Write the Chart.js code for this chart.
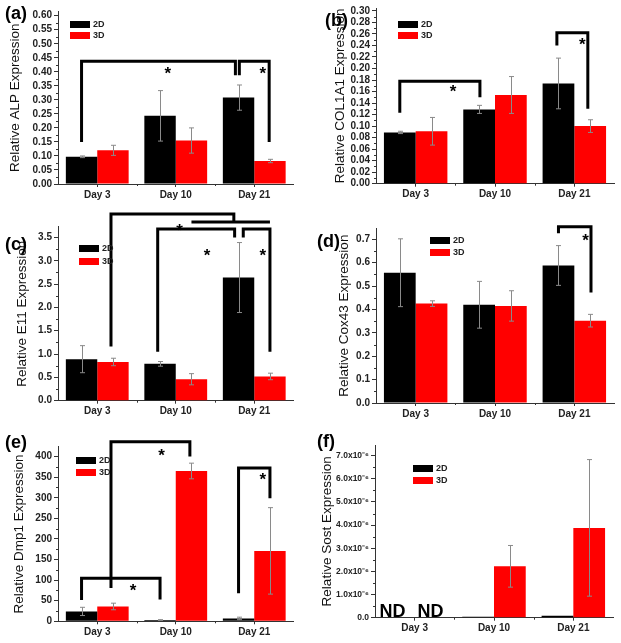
<!DOCTYPE html>
<html>
<head>
<meta charset="utf-8">
<script src="https://cdn.jsdelivr.net/npm/chart.js@4.4.1/dist/chart.umd.min.js"></script>
<style>
  body { margin: 0; background: #fff; width: 621px; height: 643px; position: relative; overflow: hidden; }
  canvas { position: absolute; }
</style>
</head>
<body>
<canvas id="pa"></canvas>
<canvas id="pb"></canvas>
<canvas id="pc"></canvas>
<canvas id="pd"></canvas>
<canvas id="pe"></canvas>
<canvas id="pf"></canvas>
<script>
'use strict';

// categories / series
const days = ['Day 3', 'Day 10', 'Day 21'];
const series = ['2D', '3D'];

// (a) ALP
const alp2D = [0.097, 0.243, 0.308];
const alp2DErr = [0.003, 0.09, 0.045];
const alp3D = [0.12, 0.155, 0.082];
const alp3DErr = [0.018, 0.045, 0.006];
const alpTicks = [0, 0.05, 0.1, 0.15, 0.2, 0.25, 0.3, 0.35, 0.4, 0.45, 0.5, 0.55, 0.6];

// (b) COL1A1
const col2D = [0.089, 0.129, 0.174];
const col2DErr = [0.002, 0.007, 0.044];
const col3D = [0.091, 0.154, 0.1];
const col3DErr = [0.024, 0.032, 0.011];
const colTicks = [0, 0.02, 0.04, 0.06, 0.08, 0.1, 0.12, 0.14, 0.16, 0.18, 0.2, 0.22, 0.24, 0.26, 0.28, 0.3];

// (c) E11
const e11_2D = [0.89, 0.79, 2.64];
const e11_2DErr = [0.29, 0.05, 0.75];
const e11_3D = [0.83, 0.46, 0.52];
const e11_3DErr = [0.08, 0.12, 0.07];
const e11Ticks = [0, 0.5, 1, 1.5, 2, 2.5, 3, 3.5];

// (d) Cox43
const cox2D = [0.557, 0.42, 0.588];
const cox2DErr = [0.145, 0.1, 0.085];
const cox3D = [0.425, 0.415, 0.352];
const cox3DErr = [0.012, 0.065, 0.027];
const coxTicks = [0, 0.1, 0.2, 0.3, 0.4, 0.5, 0.6, 0.7];

// (e) Dmp1
const dmp2D = [24, 3, 7];
const dmp2DErr = [10, 1, 3];
const dmp3D = [36, 365, 171];
const dmp3DErr = [8, 19, 105];
const dmpTicks = [0, 50, 100, 150, 200, 250, 300, 350, 400];

// (f) Sost (Day 3 = ND)
const sost2D = [null, 0.04e-6, 0.08e-6];
const sost2DErr = [0, 0, 0];
const sost3D = [null, 2.22e-6, 3.88e-6];
const sost3DErr = [0, 0.9e-6, 2.95e-6];
const sostTicks = [0, 1e-6, 2e-6, 3e-6, 4e-6, 5e-6, 6e-6, 7e-6];
const sostTickLabels = ['0.0', '1.0x10⁻⁶', '2.0x10⁻⁶', '3.0x10⁻⁶', '4.0x10⁻⁶', '5.0x10⁻⁶', '6.0x10⁻⁶', '7.0x10⁻⁶'];

// significance brackets: x in category units (2D bar = i-0.2, 3D bar = i+0.2), y in data units
const alpBrackets = [
    { x1: -0.2, y1: 0.15, x2: 1.76, y2: 0.388, top: 0.438 },
    { x1: 1.81, y1: 0.388, x2: 2.19, y2: 0.15, top: 0.438 }
];
const alpStars = [{ x: 0.9, y: 0.403 }, { x: 2.11, y: 0.403 }];

const colBrackets = [
    { x1: -0.2, y1: 0.123, x2: 0.81, y2: 0.15, top: 0.178 },
    { x1: 1.78, y1: 0.24, x2: 2.17, y2: 0.13, top: 0.262 }
];
const colStars = [{ x: 0.47, y: 0.164 }, { x: 2.1, y: 0.245 }];

const e11Brackets = [
    { x1: 0.175, y1: 1.16, x2: 1.74, y2: 3.83, top: 4.0 },
    { x1: 1.2, y1: 3.83, x2: 2.2, y2: 3.83, top: 3.83 },
    { x1: 0.77, y1: 1.05, x2: 1.75, y2: 3.5, top: 3.68 },
    { x1: 1.86, y1: 3.5, x2: 2.2, y2: 1.05, top: 3.68 }
];
const e11Stars = [{ x: 1.05, y: 3.69 }, { x: 1.4, y: 3.16 }, { x: 2.11, y: 3.16 }];

const coxBrackets = [
    { x1: 1.8, y1: 0.726, x2: 2.21, y2: 0.473, top: 0.754 }
];
const coxStars = [{ x: 2.14, y: 0.704 }];

const dmpBrackets = [
    { x1: 0.175, y1: 81, x2: 1.18, y2: 400, top: 436 },
    { x1: -0.2, y1: 52, x2: 0.8, y2: 53, top: 104.5 },
    { x1: 1.8, y1: 68, x2: 2.2, y2: 299, top: 372 }
];
const dmpStars = [{ x: 0.82, y: 409 }, { x: 0.455, y: 81 }, { x: 2.11, y: 349 }];

const FONT = "'Liberation Sans', Arial, sans-serif";

// box = canvas [left, top, w, h], area = plot [left, top, right, bottom] in page pixels
const panels = [
    { id: 'pa', tag: '(a)', box: [0, 0, 310, 205], area: [58, 11.5, 293.5, 184], max: 0.615,
      ticks: alpTicks, fmt: v => v.toFixed(2), title: 'Relative ALP Expression', titleX: 15.5,
      d2: alp2D, e2: alp2DErr, d3: alp3D, e3: alp3DErr,
      legend: [70, 21, 11], tagPos: [5, 5], brackets: alpBrackets, stars: alpStars },
    { id: 'pb', tag: '(b)', box: [310, 0, 311, 205], area: [376, 7.1, 614, 183.7], max: 0.305,
      ticks: colTicks, fmt: v => v.toFixed(2), title: 'Relative COL1A1 Expression', titleX: 340,
      d2: col2D, e2: col2DErr, d3: col3D, e3: col3DErr,
      legend: [88, 21, 11], tagPos: [15, 12], brackets: colBrackets, stars: colStars },
    { id: 'pc', tag: '(c)', box: [0, 205, 310, 220], area: [58, 226.7, 293.5, 400.7], max: 3.73,
      ticks: e11Ticks, fmt: v => v.toFixed(1), title: 'Relative E11 Expression', titleX: 22,
      d2: e11_2D, e2: e11_2DErr, d3: e11_3D, e3: e11_3DErr,
      legend: [79, 40, 13], tagPos: [5, 31], brackets: e11Brackets, stars: e11Stars },
    { id: 'pd', tag: '(d)', box: [310, 205, 311, 220], area: [376, 228.3, 614, 403], max: 0.747,
      ticks: coxTicks, fmt: v => v.toFixed(1), title: 'Relative Cox43 Expression', titleX: 344,
      d2: cox2D, e2: cox2DErr, d3: cox3D, e3: cox3DErr,
      legend: [120, 32, 12], tagPos: [7, 28], brackets: coxBrackets, stars: coxStars },
    { id: 'pe', tag: '(e)', box: [0, 415, 310, 228], area: [58, 446.7, 293.5, 621.3], max: 424,
      ticks: dmpTicks, fmt: v => String(v), title: 'Relative Dmp1 Expression', titleX: 19,
      d2: dmp2D, e2: dmp2DErr, d3: dmp3D, e3: dmp3DErr,
      legend: [76, 42, 12], tagPos: [5, 19], brackets: dmpBrackets, stars: dmpStars },
    { id: 'pf', tag: '(f)', box: [310, 415, 311, 228], area: [375, 445, 613, 617.7], max: 7.46e-6,
      ticks: sostTicks, tickLabels: sostTickLabels, tickSize: 8.5, title: 'Relative Sost Expression', titleX: 327,
      d2: sost2D, e2: sost2DErr, d3: sost3D, e3: sost3DErr,
      legend: [103, 50, 12], tagPos: [7, 18], brackets: [], stars: [], nd: 'ND' }
];

// 에러바, 괄호, 범례 등 그리기
function decoFor(p) {
    return {
        id: 'deco',
        afterDatasetsDraw(chart) {
            const ctx = chart.ctx, ys = chart.scales.y;
            ctx.save();
            ctx.strokeStyle = '#8a8a8a';
            ctx.lineWidth = 1;
            chart.data.datasets.forEach((ds, di) => {
                chart.getDatasetMeta(di).data.forEach((bar, i) => {
                    const v = ds.data[i], e = ds.errors[i];
                    if (v == null || !e) return;
                    const x = Math.round(bar.x) + 0.5;
                    const yt = ys.getPixelForValue(v + e);
                    const yb = ys.getPixelForValue(Math.max(0, v - e));
                    ctx.beginPath();
                    ctx.moveTo(x, yt); ctx.lineTo(x, yb);
                    ctx.moveTo(x - 2.5, yt); ctx.lineTo(x + 2.5, yt);
                    ctx.moveTo(x - 2.5, yb); ctx.lineTo(x + 2.5, yb);
                    ctx.stroke();
                });
            });
            ctx.restore();
        },
        afterDraw(chart) {
            const ctx = chart.ctx, xs = chart.scales.x, ys = chart.scales.y;
            const step = xs.getPixelForValue(1) - xs.getPixelForValue(0);
            const cx = pos => xs.getPixelForValue(0) + pos * step;
            const area = chart.chartArea;
            ctx.save();

            // minor ticks
            ctx.strokeStyle = '#333';
            ctx.lineWidth = 1;
            ctx.beginPath();
            for (let i = 0; i < p.ticks.length - 1; i++) {
                const y = Math.round(ys.getPixelForValue((p.ticks[i] + p.ticks[i + 1]) / 2)) + 0.5;
                ctx.moveTo(area.left - 2, y); ctx.lineTo(area.left, y);
            }
            for (let i = 0; i < days.length - 1; i++) {
                const x = Math.round(cx(i + 0.5)) + 0.5;
                ctx.moveTo(x, area.bottom); ctx.lineTo(x, area.bottom + 2);
            }
            ctx.stroke();

            // brackets
            ctx.strokeStyle = '#000';
            ctx.lineWidth = 3;
            ctx.lineJoin = 'miter';
            p.brackets.forEach(b => {
                ctx.beginPath();
                ctx.moveTo(cx(b.x1), ys.getPixelForValue(b.y1));
                ctx.lineTo(cx(b.x1), ys.getPixelForValue(b.top));
                ctx.lineTo(cx(b.x2), ys.getPixelForValue(b.top));
                ctx.lineTo(cx(b.x2), ys.getPixelForValue(b.y2));
                ctx.stroke();
            });

            // stars
            ctx.fillStyle = '#000';
            ctx.font = 'bold 17px ' + FONT;
            ctx.textAlign = 'center';
            ctx.textBaseline = 'middle';
            p.stars.forEach(s => {
                ctx.fillText('*', cx(s.x), ys.getPixelForValue(s.y) + 3);
            });

            // ND
            if (p.nd) {
                ctx.font = 'bold 18px ' + FONT;
                ctx.textBaseline = 'alphabetic';
                ctx.fillText(p.nd, cx(-0.28), area.bottom - 1);
                ctx.fillText(p.nd, cx(0.2), area.bottom - 1);
            }

            // legend
            const [lx, ly, gap] = p.legend;
            ctx.font = 'bold 9px ' + FONT;
            ctx.textAlign = 'left';
            ctx.textBaseline = 'middle';
            chart.data.datasets.forEach((ds, k) => {
                ctx.fillStyle = ds.backgroundColor;
                ctx.fillRect(lx, ly + k * gap, 20, 7);
                ctx.fillStyle = '#222';
                ctx.fillText(ds.label, lx + 23, ly + k * gap + 4);
            });

            // panel tag
            ctx.font = 'bold 18px ' + FONT;
            ctx.fillStyle = '#000';
            ctx.textBaseline = 'top';
            ctx.fillText(p.tag, p.tagPos[0], p.tagPos[1]);
            ctx.restore();
        }
    };
}

function makePanel(p) {
    const cv = document.getElementById(p.id);
    const [bx, by, bw, bh] = p.box;
    const [al, at, ar, ab] = p.area;
    cv.width = bw; cv.height = bh;
    cv.style.left = bx + 'px'; cv.style.top = by + 'px';
    cv.style.width = bw + 'px'; cv.style.height = bh + 'px';

    const tickFont = { family: FONT, size: p.tickSize || 10, weight: 'bold' };
    return new Chart(cv, {
        type: 'bar',
        data: {
            labels: days,
            datasets: [
                { label: series[0], data: p.d2, errors: p.e2, backgroundColor: '#000000', borderWidth: 0 },
                { label: series[1], data: p.d3, errors: p.e3, backgroundColor: '#ff0000', borderWidth: 0 }
            ]
        },
        options: {
            responsive: false,
            animation: false,
            datasets: { bar: { categoryPercentage: 0.8, barPercentage: 1.0 } },
            layout: { padding: { left: 0, top: at - by, right: bx + bw - ar, bottom: 0 } },
            plugins: { legend: { display: false }, tooltip: { enabled: false } },
            scales: {
                x: {
                    grid: { drawOnChartArea: false, offset: false, tickLength: 3, color: '#333' },
                    border: { color: '#333', width: 1 },
                    ticks: { font: { family: FONT, size: 10, weight: 'bold' }, color: '#222', padding: 2, maxRotation: 0, autoSkip: false },
                    afterFit: s => { s.height = by + bh - ab; }
                },
                y: {
                    min: 0,
                    max: p.max,
                    grid: { drawOnChartArea: false, tickLength: 4, color: '#333' },
                    border: { color: '#333', width: 1 },
                    ticks: {
                        font: tickFont, color: '#222', padding: 2, autoSkip: false,
                        callback: (v, i) => p.tickLabels ? p.tickLabels[i] : p.fmt(v)
                    },
                    afterBuildTicks: s => { s.ticks = p.ticks.map(v => ({ value: v })); },
                    afterFit: s => { s.width = al - bx; },
                    title: {
                        display: true, text: p.title, color: '#111',
                        font: { family: FONT, size: 13.5 },
                        padding: { top: p.titleX - bx - 8.1, bottom: 0 }
                    }
                }
            }
        },
        plugins: [decoFor(p)]
    });
}

window.onload = function () {
    panels.forEach(makePanel);
};
</script>
</body>
</html>
